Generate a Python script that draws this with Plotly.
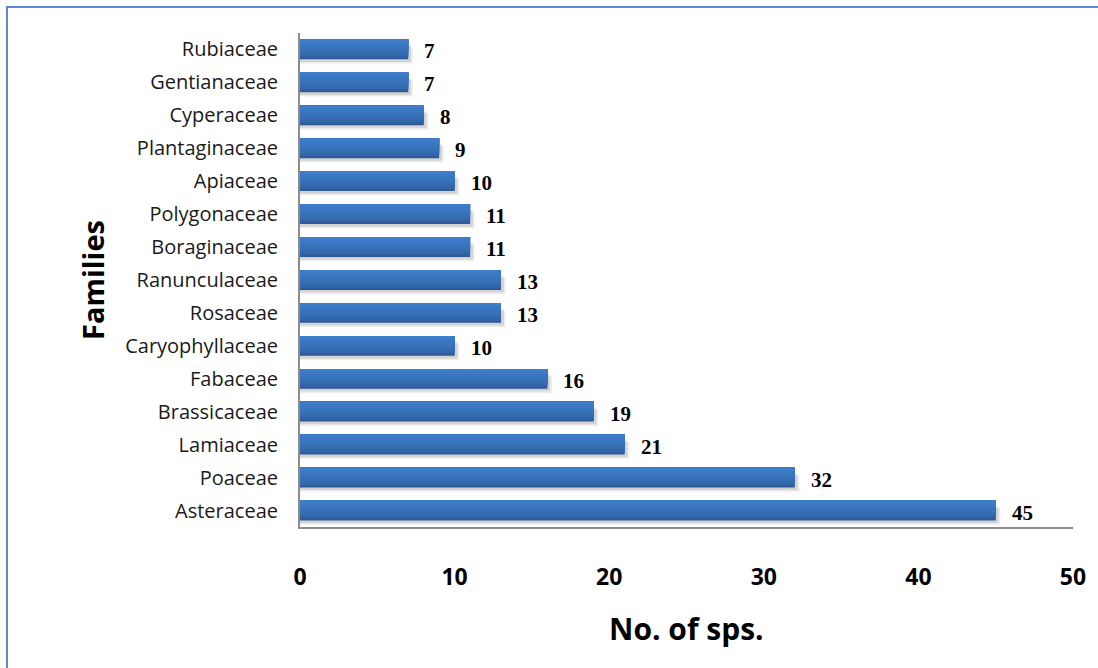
import plotly.graph_objects as go

# Number of species per family (bottom to top as drawn)
families = ["Asteraceae", "Poaceae", "Lamiaceae", "Brassicaceae", "Fabaceae",
            "Caryophyllaceae", "Rosaceae", "Ranunculaceae", "Boraginaceae",
            "Polygonaceae", "Apiaceae", "Plantaginaceae", "Cyperaceae",
            "Gentianaceae", "Rubiaceae"]
species = [45, 32, 21, 19, 16, 10, 13, 13, 11, 11, 10, 9, 8, 7, 7]
x_ticks = [0, 10, 20, 30, 40, 50]

W, H = 1098, 668
ML, MR, MT, MB = 300, 25, 33, 141
PW, PH = W - ML - MR, H - MT - MB

BAR_W = 0.6
fig = go.Figure()

# soft drop shadow below and to the right of each bar
for alpha, dx, dy in [(0.07, 0.30, 0.13), (0.11, 0.18, 0.08)]:
    fig.add_trace(go.Bar(
        y=families, x=[v + dx for v in species], orientation="h",
        width=BAR_W - 0.1, offset=-BAR_W / 2 - dy,
        marker=dict(color=f"rgba(0,0,0,{alpha})", line=dict(width=0)),
        hoverinfo="skip", showlegend=False,
    ))

# vertical shading of the bars: each layer starts higher and is lighter,
# so the bar goes from dark at the bottom to light at the top
top = (61, 125, 202)
bottom = (44, 89, 150)
n = 12
sw = BAR_W / n
for i in range(n):
    t = (i / (n - 1)) ** 0.55
    c = tuple(round(bottom[j] + (top[j] - bottom[j]) * t) for j in range(3))
    fig.add_trace(go.Bar(
        y=families, x=species, orientation="h",
        width=BAR_W - i * sw, offset=-BAR_W / 2 + i * sw,
        marker=dict(color=f"rgb{c}", line=dict(width=0)),
        hoverinfo="skip", showlegend=False,
    ))

# value labels
for fam, v in zip(families, species):
    fig.add_annotation(
        x=v, y=fam, text=f"<b>{v}</b>", showarrow=False,
        xanchor="left", yanchor="middle", xshift=14, yshift=-2,
        font=dict(family="Liberation Serif", size=21, color="#000000"),
    )

def px(xp):
    return (xp - ML) / PW

def py(yp):
    return (H - MB - yp) / PH

# axis titles
fig.add_annotation(
    x=0.5, y=py(628), xref="paper", yref="paper", text="<b>No. of sps.</b>",
    xanchor="center", yanchor="middle",
    showarrow=False, font=dict(family="Open Sans", size=30, color="#000000"),
)
fig.add_annotation(
    x=px(92), y=0.5, xref="paper", yref="paper", text="<b>Families</b>",
    xanchor="center", yanchor="middle",
    showarrow=False, textangle=-90,
    font=dict(family="Open Sans", size=29, color="#000000"),
)

# chart border
fig.add_shape(
    type="rect", xref="paper", yref="paper",
    x0=px(7), x1=px(1110), y0=py(7), y1=py(690),
    line=dict(color="#5B8BD0", width=2), fillcolor="rgba(0,0,0,0)", layer="below",
)

fig.update_layout(
    width=W, height=H, margin=dict(l=ML, r=MR, t=MT, b=MB),
    paper_bgcolor="white", plot_bgcolor="white",
    barmode="overlay", bargap=0.4, showlegend=False,
    xaxis=dict(
        range=[0, 50], tickvals=x_ticks, ticks="", showgrid=False, zeroline=False,
        showline=True, linecolor="#8C8C8C", linewidth=2,
        tickfont=dict(family="Open Sans", size=23, color="#000000", weight="bold"),
        ticklabelstandoff=28,
    ),
    yaxis=dict(
        categoryorder="array", categoryarray=families, range=[-0.5, 14.5],
        ticks="", showgrid=False, zeroline=False,
        showline=True, linecolor="#8C8C8C", linewidth=2,
        tickfont=dict(family="Open Sans", size=20, color="#1a1a1a"),
        ticklabelstandoff=16,
    ),
)

fig.write_html("out.html")
